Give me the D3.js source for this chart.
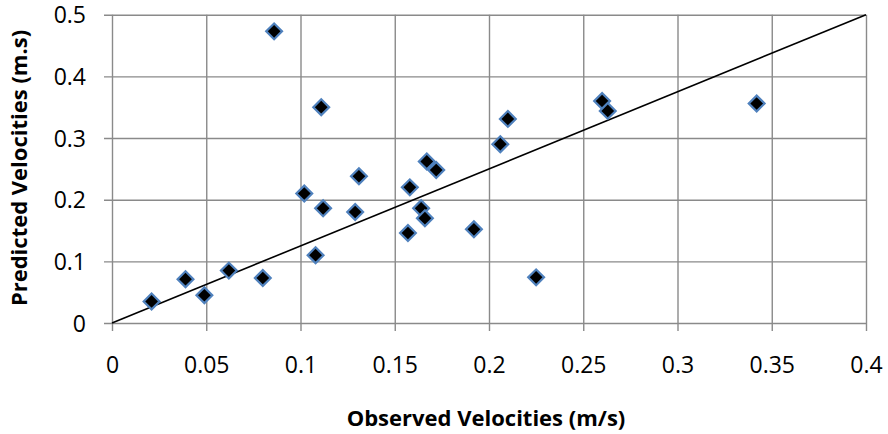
<!DOCTYPE html>
<html><head><meta charset="utf-8">
<script src="https://cdn.jsdelivr.net/npm/d3@7"></script>
<style>body{margin:0;background:#fff}svg{display:block}text{font-family:"Open Sans",sans-serif;fill:#000}</style>
</head><body><svg id="c" width="888" height="434"></svg>
<script>
const observed = [0.021,0.039,0.049,0.062,0.080,0.108,0.086,0.111,0.131,0.102,0.112,0.129,0.206,0.167,0.172,0.158,0.164,0.166,0.157,0.192,0.225,0.210,0.260,0.263,0.342];
const predicted = [0.035,0.071,0.045,0.085,0.073,0.110,0.473,0.350,0.238,0.210,0.186,0.180,0.290,0.262,0.248,0.220,0.186,0.170,0.146,0.152,0.074,0.331,0.360,0.344,0.356];
const xTicks = [0,0.05,0.1,0.15,0.2,0.25,0.3,0.35,0.4];
const yTicks = [0,0.1,0.2,0.3,0.4,0.5];
const fitLine = [[0,0],[0.4,0.5]];

const svg = d3.select("#c");
const x = d3.scaleLinear().domain([0,0.4]).range([112,866]);
const y = d3.scaleLinear().domain([0,0.5]).range([323,14.7]);
const gridColor = "#8a8a8a";

const fmt = d => d===0 ? "0" : String(+d.toFixed(2));

const gx = svg.append("g").attr("transform","translate(0,323)")
  .call(d3.axisBottom(x).tickValues(xTicks).tickFormat(fmt).tickSize(-(323-14.7)).tickSizeOuter(0).tickPadding(0));
gx.select(".domain").remove();
gx.selectAll(".tick line").attr("stroke",gridColor).attr("stroke-width",1.4).attr("y1",8);
gx.selectAll(".tick text").attr("font-size",23).attr("y",50).attr("dy",0);

const gy = svg.append("g").attr("transform","translate(112,0)")
  .call(d3.axisLeft(y).tickValues(yTicks).tickFormat(fmt).tickSize(-(866-112)).tickSizeOuter(0));
gy.select(".domain").remove();
gy.selectAll(".tick line").attr("stroke",gridColor).attr("stroke-width",1.4).attr("x1",-8);
gy.selectAll(".tick text").attr("font-size",23).attr("x",-26).attr("dy","0.35em");
svg.selectAll(".tick text").attr("font-family","Open Sans").attr("fill","#000");

svg.append("path").datum(fitLine)
  .attr("d", d3.line().x(d=>x(d[0])).y(d=>y(d[1])))
  .attr("stroke","#000").attr("stroke-width",1.6).attr("fill","none");

const sym = d3.symbol().type(d3.symbolSquare).size(125);
svg.append("g").selectAll("path").data(observed.map((o,i)=>[o,predicted[i]])).join("path")
  .attr("d", sym)
  .attr("transform", d=>`translate(${x(d[0])},${y(d[1])}) rotate(45)`)
  .attr("fill","#000").attr("stroke","#4f81bd").attr("stroke-width",2.2);

svg.append("text").attr("x",486).attr("y",426).attr("text-anchor","middle")
  .attr("font-size",22).attr("font-weight","bold").text("Observed Velocities (m/s)");
svg.append("text").attr("transform","translate(27,168) rotate(-90)").attr("text-anchor","middle")
  .attr("font-size",22).attr("font-weight","bold").text("Predicted Velocities (m.s)");
</script></body></html>
